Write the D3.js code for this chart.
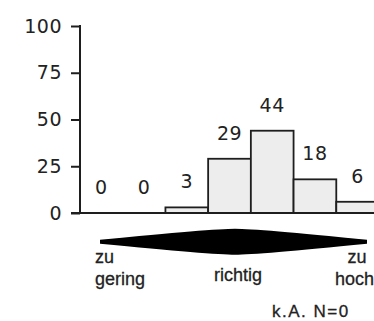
<!DOCTYPE html>
<html>
<head>
<meta charset="utf-8">
<script src="https://cdn.jsdelivr.net/npm/d3@7"></script>
<style>
  body { margin: 0; background: #fff; }
  svg { display: block; font-family: 'Liberation Sans', Arial, sans-serif; }
</style>
</head>
<body>
<svg id="chart" width="374" height="321"></svg>
<script>
var categories = [ 'c1', 'c2', 'c3', 'c4', 'c5', 'c6', 'c7' ],
  values = [ 0, 0, 3, 29, 44, 18, 6 ],
  yTicks = [ 0, 25, 50, 75, 100 ],
  scaleLabels = [ 'zu gering', 'richtig', 'zu hoch' ],
  noAnswer = 'k.A. N=0';

var svg = d3.select( '#chart' );

var x = d3.scaleBand()
  .domain( categories )
  .range( [ 80, 379 ] )
  .padding( 0 );

var y = d3.scaleLinear()
  .domain( [ 0, 100 ] )
  .range( [ 213, 26 ] );

var ink = '#1e1e1e',
  numFont = "'DejaVu Sans', sans-serif";

// y axis
var yAxis = svg.append( 'g' )
  .attr( 'transform', 'translate(80,0)' )
  .call( d3.axisLeft( y ).tickValues( yTicks ).tickSize( 9 ).tickPadding( 9 ) );

yAxis.select( '.domain' )
  .attr( 'd', 'M0,' + ( y( 100 ) - 1 ) + 'V' + y( 0 ) )
  .style( 'stroke', ink )
  .style( 'stroke-width', 2 );

yAxis.selectAll( '.tick line' )
  .style( 'stroke', ink )
  .style( 'stroke-width', 2 );

yAxis.selectAll( '.tick text' )
  .style( 'font-family', numFont )
  .style( 'font-size', '19px' )
  .style( 'letter-spacing', '0.5px' )
  .style( 'fill', '#222' );

// bars
svg.selectAll( '.bar' )
  .data( values )
  .enter().append( 'rect' )
    .attr( 'class', 'bar' )
    .attr( 'x', ( d, i ) => x( categories[ i ] ) )
    .attr( 'y', d => y( d ) )
    .attr( 'width', x.bandwidth() )
    .attr( 'height', d => y( 0 ) - y( d ) )
    .style( 'fill', '#ededed' )
    .style( 'stroke', ink )
    .style( 'stroke-width', 1.8 );

// baseline
svg.append( 'line' )
  .attr( 'x1', 71 )
  .attr( 'x2', 374 )
  .attr( 'y1', y( 0 ) )
  .attr( 'y2', y( 0 ) )
  .style( 'stroke', ink )
  .style( 'stroke-width', 2 );

// value labels
svg.selectAll( '.val' )
  .data( values )
  .enter().append( 'text' )
    .attr( 'class', 'val' )
    .attr( 'x', ( d, i ) => x( categories[ i ] ) + x.bandwidth() / 2 )
    .attr( 'y', d => y( d ) - 19 )
    .attr( 'text-anchor', 'middle' )
    .style( 'font-family', numFont )
    .style( 'font-size', '19px' )
    .style( 'letter-spacing', '0.5px' )
    .style( 'fill', '#222' )
    .text( d => d );

// scale arrow (lens shaped double wedge)
var tipL = 100, tipR = 367, mid = 235, cy = 241.7, h = 13, t = 2, c = 22;
svg.append( 'path' )
  .attr( 'd', 'M' + tipL + ',' + ( cy - t ) +
    'Q' + ( mid - c ) + ',' + ( cy - h ) + ' ' + mid + ',' + ( cy - h ) +
    'Q' + ( mid + c ) + ',' + ( cy - h ) + ' ' + tipR + ',' + ( cy - t ) +
    'L' + tipR + ',' + ( cy + t ) +
    'Q' + ( mid + c ) + ',' + ( cy + h ) + ' ' + mid + ',' + ( cy + h ) +
    'Q' + ( mid - c ) + ',' + ( cy + h ) + ' ' + tipL + ',' + ( cy + t ) + 'Z' )
  .style( 'fill', '#000' );

var lbl = svg.append( 'g' )
  .style( 'font-size', '18px' )
  .style( 'fill', '#222' )
  .style( 'stroke', '#222' )
  .style( 'stroke-width', 0.3 );

lbl.append( 'text' ).attr( 'x', 95 ).attr( 'y', 263 ).text( scaleLabels[ 0 ].split( ' ' )[ 0 ] );
lbl.append( 'text' ).attr( 'x', 95 ).attr( 'y', 285 ).text( scaleLabels[ 0 ].split( ' ' )[ 1 ] );
lbl.append( 'text' ).attr( 'x', 238 ).attr( 'y', 281 ).attr( 'text-anchor', 'middle' ).text( scaleLabels[ 1 ] );
lbl.append( 'text' ).attr( 'x', 357 ).attr( 'y', 263 ).attr( 'text-anchor', 'middle' ).text( scaleLabels[ 2 ].split( ' ' )[ 0 ] );
lbl.append( 'text' ).attr( 'x', 335 ).attr( 'y', 285 ).text( scaleLabels[ 2 ].split( ' ' )[ 1 ] );

svg.append( 'text' )
  .attr( 'x', 272 )
  .attr( 'y', 317 )
  .style( 'font-size', '17px' )
  .style( 'letter-spacing', '1.5px' )
  .style( 'fill', '#222' )
  .style( 'stroke', '#222' )
  .style( 'stroke-width', 0.3 )
  .text( noAnswer );
</script>
</body>
</html>
